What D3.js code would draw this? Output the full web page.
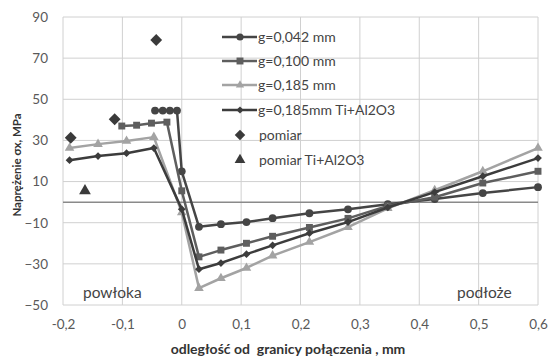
<!DOCTYPE html>
<html><head><meta charset="utf-8">
<script src="https://cdn.jsdelivr.net/npm/d3@7"></script>
<style>body{margin:0;background:#fff}svg{display:block}text{font-family:Lato,"Open Sans",sans-serif}</style>
</head><body><svg id="c" width="549" height="356"></svg>
<script>
const xTicks = [-0.2,-0.1,0,0.1,0.2,0.3,0.4,0.5,0.6];
const yTicks = [-50,-30,-10,10,30,50,70,90];
const xTickLabels = ["-0,2","-0,1","0","0,1","0,2","0,3","0,4","0,5","0,6"];
const seriesNames = ["g=0,042 mm","g=0,100 mm","g=0,185 mm","g=0,185mm Ti+Al2O3","pomiar","pomiar Ti+Al2O3"];
const xSub = [0.029,0.066,0.109,0.153,0.215,0.28,0.347,0.426,0.507,0.6];
const x042 = [-0.045,-0.032,-0.020,-0.008,0.0].concat(xSub);
const y042 = [44.5,44.5,44.5,44.5,15,-12,-10.7,-9.7,-7.8,-5.4,-3.5,-1,1.5,4.4,7.3];
const x100 = [-0.101,-0.076,-0.051,-0.025,0.0].concat(xSub);
const y100 = [37,37.4,38.4,38.9,5.5,-26.6,-23.3,-20,-16.6,-12.3,-7.9,-1.8,2.4,9.3,15];
const x185 = [-0.189,-0.141,-0.093,-0.047,0.0].concat(xSub);
const y185 = [26.3,28.2,29.7,31.6,-5,-41.8,-37,-32,-26,-19.4,-12.2,-3,5.8,15,26.3];
const yTi  = [20.4,22.4,23.8,26.3,-3.4,-32.6,-29.6,-25.3,-21,-15.1,-9.7,-2.6,4.9,12.6,21.4];
const xPomiar = [-0.187,-0.113,-0.043];
const yPomiar = [31.3,40.3,78.8];
const xPomiarTi = [-0.163];
const yPomiarTi = [5.5];

const svg = d3.select("#c");
const L=63,R=538,T=17,B=305;
const x = d3.scaleLinear().domain([-0.2,0.6]).range([L,R]);
const y = d3.scaleLinear().domain([-50,90]).range([B,T]);
const grid="#d0d0d0", tickCol="#595959";

svg.append("g").selectAll("line").data(yTicks).join("line")
  .attr("x1",L).attr("x2",R).attr("y1",d=>y(d)).attr("y2",d=>y(d)).attr("stroke",grid).attr("stroke-width",1);
svg.append("g").selectAll("line").data(xTicks).join("line")
  .attr("y1",T).attr("y2",B).attr("x1",d=>x(d)).attr("x2",d=>x(d)).attr("stroke",grid).attr("stroke-width",1);
svg.append("line").attr("x1",L).attr("x2",R).attr("y1",y(0)).attr("y2",y(0)).attr("stroke","#8a8a8a").attr("stroke-width",1.5);

const yAxis = d3.axisLeft(y).tickValues(yTicks).tickSize(0).tickPadding(15);
const gy = svg.append("g").attr("transform",`translate(${L},0)`).call(yAxis);
gy.select(".domain").remove();
gy.selectAll("text").attr("fill",tickCol).attr("font-size",13.5);
const xAxis = d3.axisBottom(x).tickValues(xTicks).tickSize(0).tickPadding(14).tickFormat((d,i)=>xTickLabels[i]);
const gx = svg.append("g").attr("transform",`translate(0,${B})`).call(xAxis);
gx.select(".domain").remove();
gx.selectAll("text").attr("fill",tickCol).attr("font-size",13.5);

svg.append("text").attr("transform","translate(21,165) rotate(-90)").attr("text-anchor","middle")
  .attr("font-size",11.5).attr("font-weight","bold").attr("fill","#333").text("Naprężenie σx, MPa");
svg.append("text").attr("x",288).attr("y",354).attr("text-anchor","middle").style("white-space","pre")
  .attr("font-size",14).attr("font-weight","bold").attr("fill","#333").text("odległość od  granicy połączenia , mm");
svg.append("text").attr("x",83).attr("y",298).attr("font-size",15.5).attr("fill","#444").text("powłoka");
svg.append("text").attr("x",457).attr("y",298).attr("font-size",15.5).attr("fill","#444").text("podłoże");

const diamond = {draw(ctx,size){const r=Math.sqrt(size/2);ctx.moveTo(0,-r);ctx.lineTo(r,0);ctx.lineTo(0,r);ctx.lineTo(-r,0);ctx.closePath();}};
const series = [
  {xs:x042, ys:y042, color:"#454545", sym:d3.symbolCircle, size:48},
  {xs:x100, ys:y100, color:"#5e5e5e", sym:d3.symbolSquare, size:48},
  {xs:x185, ys:y185, color:"#a3a3a3", sym:d3.symbolTriangle, size:40},
  {xs:x185, ys:yTi,  color:"#3c3c3c", sym:diamond, size:30}
];
const line = d3.line().x(d=>x(d[0])).y(d=>y(d[1]));
series.forEach(s=>{
  const pts = s.xs.map((v,i)=>[v,s.ys[i]]);
  svg.append("path").datum(pts).attr("d",line).attr("fill","none").attr("stroke",s.color).attr("stroke-width",2.5).attr("stroke-linejoin","round");
  svg.append("g").selectAll("path").data(pts).join("path")
    .attr("transform",d=>`translate(${x(d[0])},${y(d[1])})`)
    .attr("d",d3.symbol().type(s.sym).size(s.size)).attr("fill",s.color);
});
svg.append("g").selectAll("path").data(xPomiar.map((v,i)=>[v,yPomiar[i]])).join("path")
  .attr("transform",d=>`translate(${x(d[0])},${y(d[1])})`)
  .attr("d",d3.symbol().type(diamond).size(70)).attr("fill","#3a3a3a");
svg.append("g").selectAll("path").data(xPomiarTi.map((v,i)=>[v,yPomiarTi[i]])).join("path")
  .attr("transform",d=>`translate(${x(d[0])},${y(d[1])})`)
  .attr("d",d3.symbol().type(d3.symbolTriangle).size(60)).attr("fill","#3a3a3a");

const lg = svg.append("g");
const rowY = [37,61,85,110,135,160];
const legItems = [
  {c:"#454545",sym:d3.symbolCircle,size:40,line:true},
  {c:"#5e5e5e",sym:d3.symbolSquare,size:48,line:true},
  {c:"#a3a3a3",sym:d3.symbolTriangle,size:30,line:true},
  {c:"#3c3c3c",sym:diamond,size:26,line:true},
  {c:"#3a3a3a",sym:diamond,size:55,line:false},
  {c:"#3a3a3a",sym:d3.symbolTriangle,size:50,line:false}
];
legItems.forEach((it,i)=>{
  const yy=rowY[i];
  if(it.line) lg.append("line").attr("x1",222).attr("x2",257).attr("y1",yy).attr("y2",yy).attr("stroke",it.c).attr("stroke-width",2.5);
  lg.append("path").attr("transform",`translate(240,${yy})`).attr("d",d3.symbol().type(it.sym).size(it.size)).attr("fill",it.c);
  lg.append("text").attr("x",i<4?258:259).attr("y",yy+5).attr("font-size",14).attr("fill","#444").text(seriesNames[i]);
});
</script></body></html>
